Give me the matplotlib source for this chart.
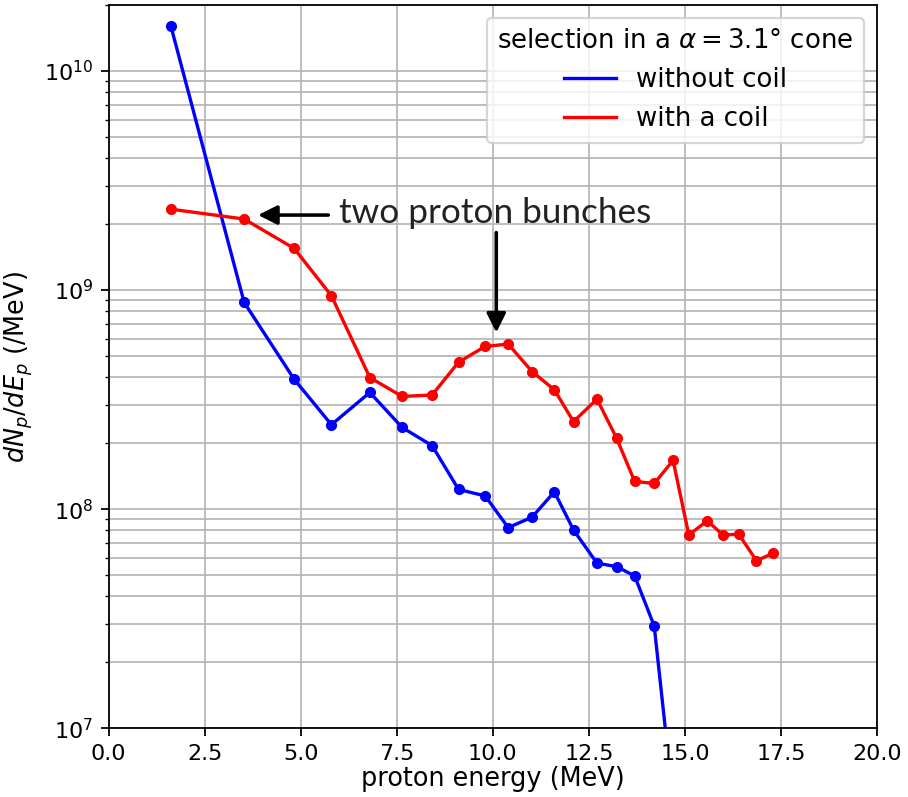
import matplotlib.pyplot as plt

# Proton spectra (energy bins in MeV, dN/dE in /MeV)
energy_no_coil = [1.62, 3.53, 4.83, 5.80, 6.80, 7.64, 8.42, 9.11, 9.80, 10.40,
                  11.02, 11.60, 12.10, 12.71, 13.22, 13.69, 14.20, 14.69]
dnde_no_coil = [1.61e10, 8.78e8, 3.92e8, 2.43e8, 3.41e8, 2.36e8, 1.95e8, 1.23e8,
                1.15e8, 8.24e7, 9.19e7, 1.20e8, 8.04e7, 5.67e7, 5.47e7, 4.96e7,
                2.93e7, 4.7e6]

energy_coil = [1.62, 3.53, 4.83, 5.80, 6.80, 7.64, 8.42, 9.11, 9.80, 10.40,
               11.02, 11.60, 12.10, 12.71, 13.22, 13.69, 14.20, 14.69, 15.10,
               15.58, 15.99, 16.40, 16.86, 17.30]
dnde_coil = [2.34e9, 2.11e9, 1.55e9, 9.42e8, 3.99e8, 3.27e8, 3.32e8, 4.69e8,
             5.53e8, 5.67e8, 4.25e8, 3.51e8, 2.51e8, 3.18e8, 2.11e8, 1.34e8,
             1.31e8, 1.67e8, 7.63e7, 8.85e7, 7.63e7, 7.69e7, 5.82e7, 6.30e7]

fig = plt.figure(figsize=(908 / 160, 797 / 160), dpi=160)
ax = fig.add_axes([0.1195, 0.0862, 0.8465, 0.9075])

ax.plot(energy_no_coil, dnde_no_coil, color='blue', lw=1.5, label='without coil')
ax.plot(energy_no_coil, dnde_no_coil, 'o', color='blue', ms=4)
ax.plot(energy_coil, dnde_coil, color='red', lw=1.5, label='with a coil')
ax.plot(energy_coil, dnde_coil, 'o', color='red', ms=4)

ax.set_yscale('log')
ax.set_xlim(0, 20)
ax.set_ylim(1e7, 2e10)
ax.set_xticks([0, 2.5, 5, 7.5, 10, 12.5, 15, 17.5, 20])
ax.grid(True, which='major', color='#b8b8b8', lw=0.8)
ax.grid(True, which='minor', axis='y', color='#b8b8b8', lw=0.8)

ax.set_xlabel('proton energy (MeV)', fontsize=11.5, labelpad=1)
ax.set_ylabel(r'$dN_p/dE_p$ (/MeV)', fontsize=11.5)

ax.legend(title=r'selection in a $\alpha = 3.1°$ cone', loc='upper right',
          fontsize=11.7, title_fontsize=11.7)

# Arrows marking the two bunches
ax.annotate('', xy=(3.89, 2.2e9), xytext=(5.72, 2.2e9),
            arrowprops=dict(arrowstyle='-|>', color='black', lw=1.6,
                            mutation_scale=18, shrinkA=0, shrinkB=0))
ax.annotate('', xy=(10.09, 6.4e8), xytext=(10.09, 1.83e9),
            arrowprops=dict(arrowstyle='-|>', color='black', lw=1.6,
                            mutation_scale=18, shrinkA=0, shrinkB=0))
ax.text(6.0, 2.25e9, 'two proton bunches', fontsize=15.8, family='Lato',
        va='center', ha='left', color='#222222')

fig.savefig('out.png', dpi=160)
